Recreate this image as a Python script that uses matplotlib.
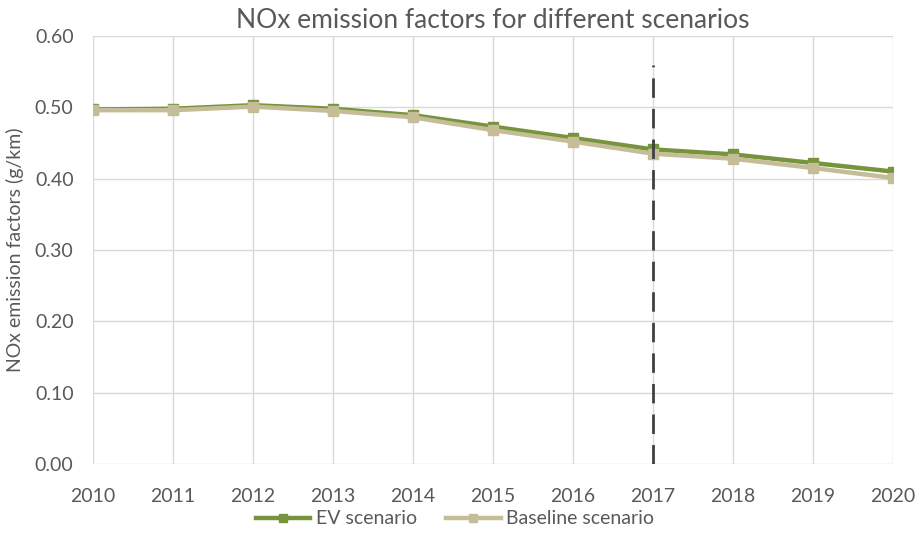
import matplotlib
matplotlib.use("Agg")
import matplotlib.pyplot as plt
from matplotlib.lines import Line2D

years = [2010, 2011, 2012, 2013, 2014, 2015, 2016, 2017, 2018, 2019, 2020]
ev_scenario = [0.497, 0.498, 0.503, 0.498, 0.489, 0.473, 0.457, 0.441, 0.434, 0.422, 0.410]
baseline_scenario = [0.496, 0.496, 0.501, 0.495, 0.486, 0.468, 0.452, 0.435, 0.428, 0.415, 0.401]
yticks = [0.0, 0.1, 0.2, 0.3, 0.4, 0.5, 0.6]
marker_year = 2017
marker_top = 0.56

plt.rcParams['font.family'] = ['Lato', 'DejaVu Sans']
txt = '#595959'

fig = plt.figure(figsize=(9.18, 5.34), dpi=100)
ax = fig.add_axes([93/918, 1-464/534, 800/918, 428/534])

ax.plot(years, baseline_scenario, color='#C4BD97', lw=3.2, marker='s', ms=7, zorder=3, label='Baseline scenario')
ax.plot(years, ev_scenario, color='#77933C', lw=3.2, marker='s', ms=7, zorder=2, label='EV scenario')
ax.plot([marker_year, marker_year], [0, marker_top], color='#404040', lw=2, ls=(0, (7, 4)), zorder=4)

ax.set_xlim(2010, 2020)
ax.set_ylim(0, 0.6)
ax.set_xticks(years)
ax.set_yticks(yticks)
ax.set_yticklabels([f'{v:.2f}' for v in yticks])
ax.grid(True, color='#D9D9D9', lw=1)
ax.set_axisbelow(True)
for s in ax.spines.values():
    s.set_visible(False)
ax.tick_params(length=0, labelsize=14, colors=txt)
ax.tick_params(axis='x', pad=17)
ax.tick_params(axis='y', pad=14)
ax.set_ylabel('NOx emission factors (g/km)', fontsize=14, color=txt, labelpad=8)
ax.set_title('NOx emission factors for different scenarios', fontsize=19, color=txt, pad=6)

handles = [Line2D([], [], color='#77933C', lw=3.2, marker='s', ms=6),
           Line2D([], [], color='#C4BD97', lw=3.2, marker='s', ms=6)]
fig.legend(handles, ['EV scenario', 'Baseline scenario'], loc='center', bbox_to_anchor=(455/918, 1-519/534),
           ncol=2, frameon=False, fontsize=14, labelcolor=txt, handlelength=2.8, columnspacing=1.5,
           handletextpad=0.3, borderpad=0)

fig.savefig('out.png', dpi=100)
